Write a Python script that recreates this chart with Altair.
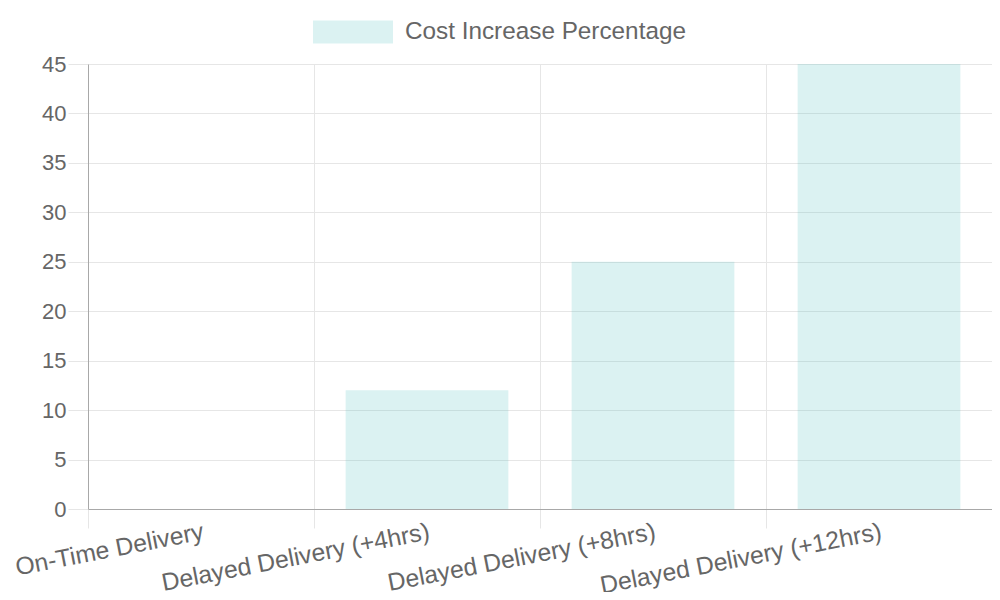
"""Bar chart of cost increase per delivery delay"""

import altair as alt
import pandas as pd

categories = [
    "On-Time Delivery",
    "Delayed Delivery (+4hrs)",
    "Delayed Delivery (+8hrs)",
    "Delayed Delivery (+12hrs)",
]
cost_increase = [0, 12, 25, 45]
series_name = "Cost Increase Percentage"
y_ticks = [0, 5, 10, 15, 20, 25, 30, 35, 40, 45]

GRID = "#e6e6e6"
AXIS = "#a8a8a8"
TEXT = "#666666"
FONT = "Liberation Sans"

df = pd.DataFrame({
    "category": categories,
    "value": cost_increase,
    "series": [series_name] * len(categories),
})

legend_symbol = "M-1,-0.2875H1V0.2875H-1Z"

chart = alt.Chart(df).mark_bar(
    width=alt.RelativeBandSize(0.72)
).encode(
    x=alt.X(
        "category:N",
        sort=categories,
        title=None,
        scale=alt.Scale(paddingInner=0, paddingOuter=0),
        axis=alt.Axis(
            bandPosition=0,
            labelAngle=-11,
            labelAlign="right",
            labelBaseline="top",
            labelPadding=-9,
            labelOverlap=False,
            labelLimit=0,
            labelFontSize=24.7,
            tickSize=19,
        ),
    ),
    y=alt.Y(
        "value:Q",
        title=None,
        scale=alt.Scale(domain=[0, 45], nice=False),
        axis=alt.Axis(
            values=y_ticks,
            labelFontSize=22,
            labelPadding=2,
            tickSize=20,
        ),
    ),
    color=alt.Color(
        "series:N",
        scale=alt.Scale(range=["rgba(75,192,192,0.2)"]),
        legend=alt.Legend(
            title=None,
            orient="none",
            legendX=225,
            legendY=-72,
            symbolType=legend_symbol,
            symbolSize=6400,
            symbolStrokeWidth=0,
            labelFontSize=24.3,
            labelColor=TEXT,
            labelFont=FONT,
            labelOffset=12,
            labelLimit=0,
            padding=0,
        ),
    ),
).properties(
    width=904,
    height=445,
    autosize=alt.AutoSizeParams(type="none"),
    padding={"left": 80, "top": 56, "right": 0, "bottom": 83},
).configure_view(
    stroke=GRID,
    strokeWidth=1,
).configure_axis(
    grid=True,
    gridColor=GRID,
    gridWidth=1,
    tickColor=GRID,
    domainColor=AXIS,
    domainWidth=1,
    labelColor=TEXT,
    labelFont=FONT,
)

chart.save("out.html", embed_options={"renderer": "svg", "actions": False})
